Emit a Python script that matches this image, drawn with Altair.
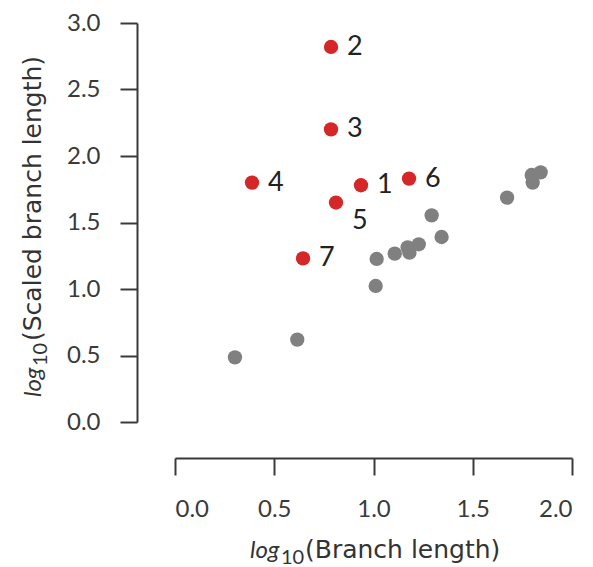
import altair as alt
import pandas as pd

# Highlighted (red) branches
red_labels = ["1", "2", "3", "4", "5", "6", "7"]
red_x = [0.937, 0.786, 0.786, 0.388, 0.811, 1.179, 0.645]
red_y = [1.78, 2.82, 2.20, 1.80, 1.65, 1.83, 1.23]

# Other (gray) branches
gray_x = [0.302, 0.616, 1.011, 1.016, 1.107, 1.172, 1.181, 1.228, 1.293, 1.343, 1.673, 1.802, 1.797, 1.842]
gray_y = [0.486, 0.619, 1.023, 1.226, 1.266, 1.313, 1.273, 1.336, 1.554, 1.391, 1.687, 1.800, 1.857, 1.877]

x_ticks = [0.0, 0.5, 1.0, 1.5, 2.0]
y_ticks = [0.0, 0.5, 1.0, 1.5, 2.0, 2.5, 3.0]

red_df = pd.DataFrame({"x": red_x, "y": red_y, "label": red_labels})
gray_df = pd.DataFrame({"x": gray_x, "y": gray_y})

FONT = "Lato"
TFONT = "DejaVu Sans"
INK = "#3a3a3a"

x_scale = alt.Scale(domain=[0, 2], nice=False, zero=False)
y_scale = alt.Scale(domain=[0, 3], nice=False, zero=False)

x_axis = alt.Axis(values=x_ticks, format=".1f", offset=36, tickSize=17, tickWidth=2,
                  domainWidth=2, domainColor=INK, tickColor=INK, labelFont=FONT,
                  labelFontSize=24, labelColor=INK, labelPadding=22, grid=False, title=None)
y_axis = alt.Axis(values=y_ticks, format=".1f", offset=38, tickSize=17, tickWidth=2,
                  domainWidth=2, domainColor=INK, tickColor=INK, labelFont=FONT,
                  labelFontSize=24, labelColor=INK, labelPadding=20, grid=False, title=None)

gray = alt.Chart(gray_df).mark_circle(size=205, color="#808080", opacity=1).encode(
    x=alt.X("x:Q", scale=x_scale, axis=x_axis),
    y=alt.Y("y:Q", scale=y_scale, axis=y_axis),
)
red = alt.Chart(red_df).mark_circle(size=205, color="#d62728", opacity=1).encode(
    x=alt.X("x:Q", scale=x_scale),
    y=alt.Y("y:Q", scale=y_scale),
)
labels = alt.Chart(red_df).transform_filter(alt.datum.label != "5").mark_text(
    align="left", baseline="middle", dx=16, font=FONT, fontSize=27, color="#222222"
).encode(x=alt.X("x:Q", scale=x_scale), y=alt.Y("y:Q", scale=y_scale), text="label:N")
label5 = alt.Chart(red_df).transform_filter(alt.datum.label == "5").mark_text(
    align="left", baseline="middle", dx=16, dy=18, font=FONT, fontSize=27, color="#222222"
).encode(x=alt.X("x:Q", scale=x_scale), y=alt.Y("y:Q", scale=y_scale), text="label:N")

one = pd.DataFrame({"a": [0]})

def piece(text, x, y, size=22, style="normal", angle=0, font=FONT):
    return alt.Chart(one).mark_text(text=text, align="left", baseline="alphabetic",
                                    font=font, fontSize=size, fontStyle=style,
                                    color="#333333", angle=angle).encode(
        x=alt.value(x), y=alt.value(y))

# x-axis title: log10(Branch length)
xt = [piece("log", 75, 535, size=24, style="italic"),
      piece("10", 106, 541, size=20),
      piece("(Branch length)", 130, 535, size=25, font=TFONT)]
# y-axis title (rotated): log10(Scaled branch length)
yt = [piece("log", -134, 374, size=24, style="italic", angle=270),
      piece("10", -128, 343, size=20, angle=270),
      piece("(Scaled branch length)", -134, 318, size=25, angle=270, font=TFONT)]

chart = alt.layer(gray, red, labels, label5, *xt, *yt).properties(
    width=397, height=399,
    autosize=alt.AutoSizeParams(type="none"),
    padding={"left": 175, "top": 23, "right": 21, "bottom": 145},
    background="white",
).configure_view(stroke=None)

chart.save("out.html", embed_options={"renderer": "svg", "actions": False})
